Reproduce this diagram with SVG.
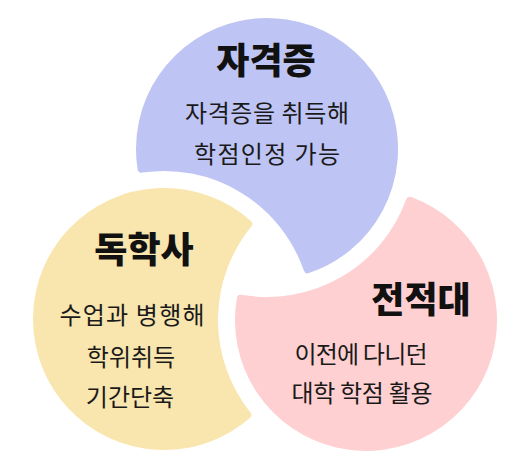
<svg xmlns="http://www.w3.org/2000/svg" width="514" height="455" viewBox="0 0 514 455">
<style>
.shape{stroke-width:8;stroke-linejoin:round}
.title{font-family:"Noto Sans CJK KR","Noto Sans",sans-serif;font-weight:900;font-size:36px;fill:#111;text-anchor:middle}
.body{font-family:"Noto Sans CJK KR","Noto Sans",sans-serif;font-weight:400;font-size:24px;fill:#1a1a1a;text-anchor:middle}
</style>
<rect width="514" height="455" fill="#ffffff"/>
<g id="node-jagyeokjeung">
<path class="shape" fill="#bec4f3" stroke="#bec4f3" d="M141.55 168.65 A127 127 0 1 1 307.65 269.29 A152 152 0 0 0 141.55 168.65 Z"/>
<text class="title" x="266" y="74">자격증</text>
<text class="body" x="267" y="122" textLength="164" lengthAdjust="spacing">자격증을 취득해</text>
<text class="body" x="267" y="163" textLength="146" lengthAdjust="spacing">학점인정 가능</text>
</g>
<g id="node-dokhaksa">
<path class="shape" fill="#f9e5ae" stroke="#f9e5ae" d="M247.27 414.89 A127 127 0 1 1 248.21 223.93 A152 152 0 0 0 247.27 414.89 Z"/>
<text class="title" x="144" y="263">독학사</text>
<text class="body" x="132" y="324" textLength="145" lengthAdjust="spacing">수업과 병행해</text>
<text class="body" x="131" y="366">학위취득</text>
<text class="body" x="130" y="406">기간단축</text>
</g>
<g id="node-jeonjeokdae">
<path class="shape" fill="#ffd0d1" stroke="#ffd0d1" d="M409.90 200.83 A127 127 0 1 1 240.80 298.73 A152 152 0 0 0 409.90 200.83 Z"/>
<text class="title" x="421" y="313">전적대</text>
<text class="body" x="361" y="363" textLength="133" lengthAdjust="spacing">이전에 다니던</text>
<text class="body" x="362" y="402" textLength="141" lengthAdjust="spacing">대학 학점 활용</text>
</g>
</svg>
